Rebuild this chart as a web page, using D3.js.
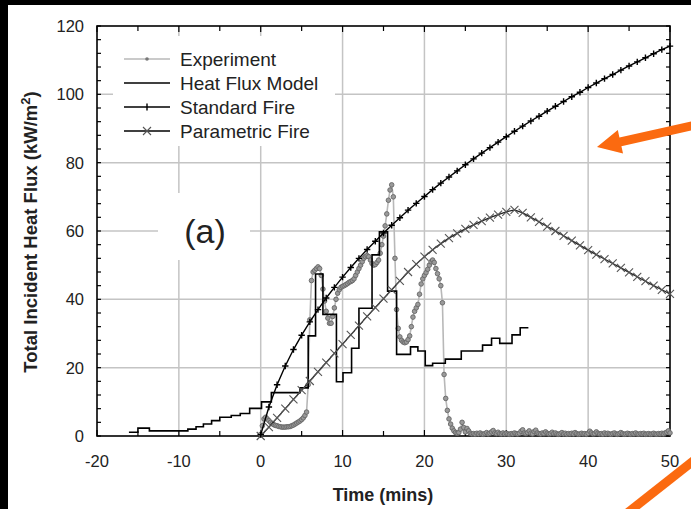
<!DOCTYPE html>
<html>
<head>
<meta charset="utf-8">
<script src="https://cdn.jsdelivr.net/npm/d3@7/dist/d3.min.js"></script>
<style>
body { margin: 0; background: #fff; }
svg { display: block; font-family: "Liberation Sans", Arial, sans-serif; }
</style>
</head>
<body>
<script>
// standard fire + parametric fire, one point per minute (0..50)
const fireTimes = d3.range(0, 51);
const standardFire = [
    0.4, 8.5, 15.0, 20.5, 25.3, 29.5, 33.4, 37.0, 40.4, 43.5,
    46.5, 49.3, 52.0, 54.6, 57.0, 59.4, 61.7, 63.9, 66.1, 68.1,
    70.1, 72.1, 74.0, 75.8, 77.6, 79.4, 81.1, 82.8, 84.4, 86.0,
    87.6, 89.2, 90.7, 92.2, 93.6, 95.1, 96.5, 97.9, 99.3, 100.6,
    102.0, 103.3, 104.6, 105.8, 107.1, 108.3, 109.5, 110.7, 111.9, 113.1,
    114.1
];
const parametricFire = [
    0.0, 2.6, 5.3, 8.0, 10.7, 13.4, 16.1, 18.8, 21.5, 24.2,
    26.9, 29.6, 32.3, 35.0, 37.6, 40.2, 42.8, 45.4, 48.0, 50.3,
    52.5, 54.5, 56.3, 57.9, 59.3, 60.6, 61.8, 62.9, 63.9, 64.8,
    65.6, 66.2, 65.3, 64.0, 62.7, 61.3, 60.0, 58.6, 57.2, 55.8,
    54.4, 53.1, 51.8, 50.5, 49.2, 47.9, 46.6, 45.3, 44.0, 42.8,
    41.6
];

// heat flux model, step starts (mins) and values
const modelTimes = [
    -16.1, -15.0, -13.6, -8.9, -7.9, -7.0, -6.0, -5.0, -3.6, -2.5,
    -1.35, 0.1, 1.3, 4.8, 5.8, 6.7, 7.6, 9.25, 10.05, 11.1,
    12.0, 13.6, 14.5, 15.5, 16.6, 18.3, 19.2, 20.1, 21.0, 22.55,
    24.5, 27.1, 28.2, 29.2, 30.7, 31.7, 32.7
];
const modelFlux = [
    1.1, 2.3, 1.5, 2.0, 2.7, 3.5, 4.5, 5.5, 6.0, 6.6,
    8.1, 10.0, 12.7, 14.1, 29.3, 47.4, 35.6, 15.9, 18.5, 25.7,
    37.4, 53.0, 59.8, 42.4, 23.9, 26.1, 24.9, 20.6, 21.3, 22.5,
    24.9, 26.6, 28.6, 27.1, 29.6, 31.7, 31.7
];

// experiment, every 0.2 min from 0 to 50 (10 values = 2 mins per row)
const expStep = 0.2;
const experiment = [
    0.5, 3.0, 5.0, 5.5, 5.0, 4.5, 4.0, 3.6, 3.3, 3.1,
    3.0, 2.8, 2.7, 2.6, 2.6, 2.6, 2.7, 2.7, 2.8, 3.0,
    3.2, 3.5, 3.8, 4.1, 4.4, 4.8, 5.3, 6.0, 7.0, 15.0,
    34.0, 45.5, 48.0, 48.5, 49.0, 49.5, 49.0, 47.0, 43.0, 39.5,
    36.5, 34.5, 33.0, 33.0, 35.0, 37.5, 40.0, 41.8, 42.8, 43.5,
    43.8, 44.0, 44.3, 44.6, 45.0, 45.2, 45.5, 46.0, 47.0, 48.0,
    49.0, 50.0, 51.0, 52.0, 52.5, 52.8, 52.5, 51.5, 50.5, 50.0,
    50.2, 50.8, 51.5, 53.5, 56.0, 58.5, 61.5, 65.0, 69.0, 72.0,
    73.5, 70.0, 52.0, 37.0, 31.5, 29.0, 28.0, 27.5, 27.3, 27.5,
    28.2, 29.3, 32.0, 34.8, 36.5, 37.5, 38.5, 41.5, 44.5, 46.0,
    47.0, 47.8, 48.8, 50.0, 51.0, 51.5, 50.8, 49.0, 47.5, 46.0,
    44.0, 39.0, 18.0, 11.0, 7.5, 5.0, 3.5, 2.3, 1.5, 1.0,
    0.8, 1.0, 2.0, 4.0, 2.5, 1.2, 2.2, 1.5, 0.8, 0.6,
    0.7, 0.5, 0.8, 0.6, 0.9, 0.6, 0.5, 0.7, 1.0, 0.6,
    0.8, 1.2, 1.6, 0.9, 0.7, 1.1, 0.7, 0.6, 0.9, 0.6,
    0.8, 0.6, 0.5, 0.7, 0.6, 0.9, 0.7, 0.6, 0.8, 1.4,
    1.8, 0.9, 0.7, 1.0, 1.5, 0.8, 0.6, 1.3, 1.7, 0.9,
    0.7, 0.6, 0.9, 0.7, 1.2, 0.8, 0.6, 0.7, 1.1, 0.7,
    0.9, 0.6, 0.5, 0.7, 1.0, 0.6, 0.8, 0.5, 0.7, 0.6,
    0.8, 0.6, 1.0, 0.7, 0.5, 0.6, 0.8, 0.6, 0.7, 0.5,
    0.8, 1.4, 0.9, 0.6, 0.7, 1.2, 0.8, 0.6, 0.7, 0.5,
    0.9, 0.6, 0.8, 0.6, 0.5, 0.7, 0.9, 0.6, 0.5, 0.7,
    1.0, 0.7, 0.5, 0.6, 0.8, 0.6, 0.5, 0.7, 0.6, 0.9,
    0.6, 0.5, 0.7, 0.6, 0.8, 0.5, 0.6, 0.7, 0.5, 0.6,
    0.8, 0.6, 0.5, 0.7, 0.6, 0.8, 0.6, 0.9, 1.1, 1.5,
    0.9
];

const xTicks = [-20, -10, 0, 10, 20, 30, 40, 50];
const yTicks = [0, 20, 40, 60, 80, 100, 120];
const legendLabels = ["Experiment", "Heat Flux Model", "Standard Fire", "Parametric Fire"];

function draw() {
    const width = 691, height = 509;
    const pl = 97, pr = 670, pt = 26, pb = 436;
    const orange = "#fb6a10";

    const svg = d3.select("body").append("svg")
        .attr("width", width)
        .attr("height", height);

    const x = d3.scaleLinear().domain([-20, 50]).range([pl, pr]);
    const y = d3.scaleLinear().domain([0, 120]).range([pb, pt]);

    // scanned page edge
    svg.append("rect").attr("x", 0).attr("y", 0).attr("width", width).attr("height", 5).attr("fill", "#000");
    svg.append("rect").attr("x", 0).attr("y", 0).attr("width", 8).attr("height", height).attr("fill", "#000");

    // grid
    const grid = svg.append("g").attr("stroke", "#c4c4c4").attr("stroke-width", 1.5);
    grid.selectAll(".vg")
        .data(xTicks.filter(d => d > -20 && d < 50))
        .enter().append("line")
        .attr("x1", d => x(d)).attr("x2", d => x(d))
        .attr("y1", pt).attr("y2", pb);
    grid.selectAll(".hg")
        .data(yTicks.filter(d => d > 0 && d < 120))
        .enter().append("line")
        .attr("x1", pl).attr("x2", pr)
        .attr("y1", d => y(d)).attr("y2", d => y(d));

    // white boxes behind legend and the (a) label
    svg.append("rect").attr("x", 113).attr("y", 36).attr("width", 222).attr("height", 110).attr("fill", "#fff");
    svg.append("rect").attr("x", 158).attr("y", 193).attr("width", 92).attr("height", 67).attr("fill", "#fff");

    // axes: ticks inside on all four sides
    const axisG = svg.append("g").attr("stroke", "#000").attr("stroke-width", 1.2);
    const xMinor = d3.range(-20, 50.01, 5);
    const yMinor = d3.range(0, 120.01, 4);
    axisG.selectAll(".xb").data(xMinor).enter().append("line")
        .attr("x1", d => x(d)).attr("x2", d => x(d))
        .attr("y1", pb).attr("y2", d => pb - (d % 10 === 0 ? 6 : 5));
    axisG.selectAll(".xt").data(xMinor).enter().append("line")
        .attr("x1", d => x(d)).attr("x2", d => x(d))
        .attr("y1", pt).attr("y2", d => pt + (d % 10 === 0 ? 6 : 5));
    axisG.selectAll(".yl").data(yMinor).enter().append("line")
        .attr("x1", pl).attr("x2", pl + 4)
        .attr("y1", d => y(d)).attr("y2", d => y(d));
    axisG.selectAll(".yr").data(yMinor).enter().append("line")
        .attr("x1", pr).attr("x2", pr - 4)
        .attr("y1", d => y(d)).attr("y2", d => y(d));
    svg.append("rect")
        .attr("x", pl).attr("y", pt)
        .attr("width", pr - pl).attr("height", pb - pt)
        .attr("fill", "none").attr("stroke", "#000").attr("stroke-width", 1.6);

    // tick labels
    svg.append("g").selectAll("text").data(xTicks).enter().append("text")
        .attr("x", d => x(d)).attr("y", 467)
        .attr("text-anchor", "middle")
        .attr("font-size", 16.5).attr("fill", "#222")
        .text(d => d);
    svg.append("g").selectAll("text").data(yTicks).enter().append("text")
        .attr("x", 84).attr("y", d => y(d) + 6)
        .attr("text-anchor", "end")
        .attr("font-size", 16.5).attr("fill", "#222")
        .text(d => d);

    // axis titles
    svg.append("text")
        .attr("x", 383).attr("y", 501)
        .attr("text-anchor", "middle")
        .attr("font-size", 18).attr("font-weight", "bold").attr("fill", "#222")
        .text("Time (mins)");
    const yTitle = svg.append("text")
        .attr("transform", "translate(37,232) rotate(-90)")
        .attr("text-anchor", "middle")
        .attr("font-size", 18.5).attr("font-weight", "bold").attr("fill", "#222");
    yTitle.append("tspan").text("Total Incident Heat Flux (kW/m");
    yTitle.append("tspan").attr("dy", -7).attr("font-size", 13).text("2");
    yTitle.append("tspan").attr("dy", 7).text(")");

    svg.append("text")
        .attr("x", 205).attr("y", 243)
        .attr("text-anchor", "middle")
        .attr("font-size", 34).attr("fill", "#222")
        .text("(a)");

    const line = d3.line().x(d => x(d[0])).y(d => y(d[1]));

    // experiment
    const expPts = experiment.map((v, i) => [i * expStep, v]);
    svg.append("path")
        .attr("d", line(expPts))
        .attr("fill", "none").attr("stroke", "#b8b8b8").attr("stroke-width", 1.6);
    svg.append("g").selectAll("circle").data(expPts).enter().append("circle")
        .attr("cx", d => x(d[0])).attr("cy", d => y(d[1])).attr("r", 2.3)
        .attr("fill", "#9a9a9a").attr("stroke", "#666").attr("stroke-width", 0.9);

    // heat flux model
    const modelPts = modelTimes.map((t, i) => [t, modelFlux[i]]);
    svg.append("path")
        .attr("d", d3.line().x(d => x(d[0])).y(d => y(d[1])).curve(d3.curveStepAfter)(modelPts))
        .attr("fill", "none").attr("stroke", "#000").attr("stroke-width", 1.6);

    // parametric fire
    const paraPts = fireTimes.map((t, i) => [t, parametricFire[i]]);
    svg.append("path")
        .attr("d", line(paraPts))
        .attr("fill", "none").attr("stroke", "#222").attr("stroke-width", 1.3);
    svg.append("g").selectAll("path").data(paraPts).enter().append("path")
        .attr("d", d => {
            const cx = x(d[0]), cy = y(d[1]), s = 4;
            return `M${cx - s},${cy - s}L${cx + s},${cy + s}M${cx - s},${cy + s}L${cx + s},${cy - s}`;
        })
        .attr("stroke", "#555").attr("stroke-width", 1.1);

    // standard fire
    const stdPts = fireTimes.map((t, i) => [t, standardFire[i]]);
    svg.append("path")
        .attr("d", line(stdPts))
        .attr("fill", "none").attr("stroke", "#000").attr("stroke-width", 1.4);
    svg.append("g").selectAll("path").data(stdPts).enter().append("path")
        .attr("d", d => {
            const cx = x(d[0]), cy = y(d[1]), s = 3.2;
            return `M${cx - s},${cy}L${cx + s},${cy}M${cx},${cy - s}L${cx},${cy + s}`;
        })
        .attr("stroke", "#000").attr("stroke-width", 1.4);

    // legend
    const legend = svg.append("g");
    const rowY = [59, 83, 107, 131];
    legendLabels.forEach(function(label, i) {
        const ly = rowY[i];
        legend.append("line")
            .attr("x1", 124).attr("x2", 170).attr("y1", ly).attr("y2", ly)
            .attr("stroke", i === 0 ? "#b8b8b8" : "#000").attr("stroke-width", i === 0 ? 1.6 : 1.4);
        if (i === 0)
            legend.append("circle").attr("cx", 147).attr("cy", ly).attr("r", 1.8).attr("fill", "#777");
        if (i === 2)
            legend.append("line").attr("x1", 147).attr("x2", 147).attr("y1", ly - 3.5).attr("y2", ly + 3.5)
                .attr("stroke", "#000").attr("stroke-width", 1.4);
        if (i === 3)
            legend.append("path")
                .attr("d", `M143,${ly - 4}L151,${ly + 4}M143,${ly + 4}L151,${ly - 4}`)
                .attr("stroke", "#555").attr("stroke-width", 1.1);
        legend.append("text")
            .attr("x", 180).attr("y", ly + 6.5)
            .attr("font-size", 19).attr("fill", "#222")
            .text(label);
    });

    // orange annotation arrows
    function arrowPath(x1, y1, x2, y2, w, headLen, headW) {
        const dx = x2 - x1, dy = y2 - y1, len = Math.hypot(dx, dy);
        const ux = dx / len, uy = dy / len, nx = -uy, ny = ux;
        const bx = x2 - ux * headLen, by = y2 - uy * headLen;
        const p = [
            [x1 + nx * w, y1 + ny * w], [bx + nx * w, by + ny * w], [bx + nx * headW, by + ny * headW],
            [x2, y2],
            [bx - nx * headW, by - ny * headW], [bx - nx * w, by - ny * w], [x1 - nx * w, y1 - ny * w]
        ];
        return "M" + p.map(q => q.join(",")).join("L") + "Z";
    }
    svg.append("path").attr("d", arrowPath(700, 124, 597, 147, 4.5, 24, 12)).attr("fill", orange);
    svg.append("line")
        .attr("x1", 626).attr("y1", 514).attr("x2", 697).attr("y2", 458)
        .attr("stroke", orange).attr("stroke-width", 9);
}

window.onload = function() {
    draw();
};
</script>
</body>
</html>
